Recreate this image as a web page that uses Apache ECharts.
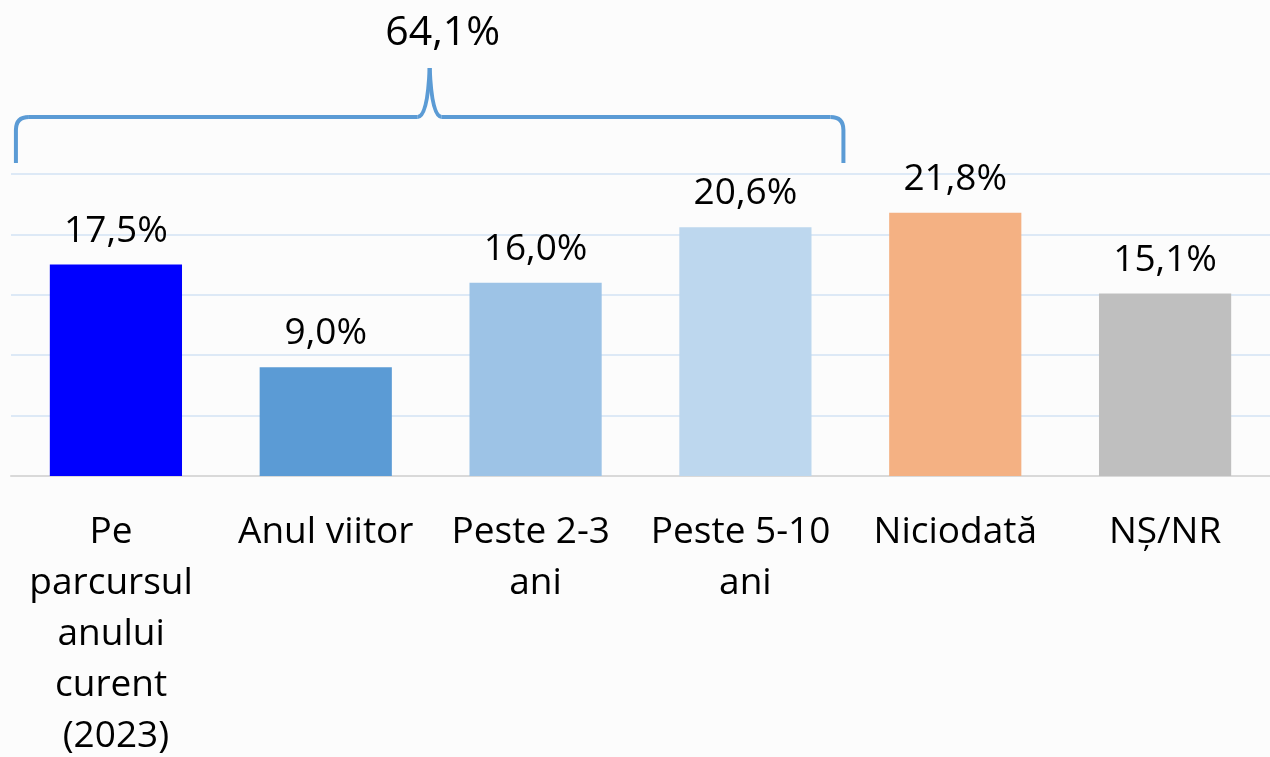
<!DOCTYPE html>
<html>
<head>
<meta charset="utf-8">
<script src="https://cdn.jsdelivr.net/npm/echarts@6/dist/echarts.min.js"></script>
<style>
  html, body { margin: 0; padding: 0; background: #fcfcfc; }
  #chart { width: 1270px; height: 757px; }
</style>
</head>
<body>
<div id="chart"></div>
<script>
const categories = ["Pe parcursul anului curent (2023)", "Anul viitor", "Peste 2-3 ani", "Peste 5-10 ani", "Niciodată", "NȘ/NR"];
const values = [17.5, 9.0, 16.0, 20.6, 21.8, 15.1];
const barColors = ["#0000ff", "#5b9bd5", "#9dc3e6", "#bdd7ee", "#f4b183", "#bfbfbf"];
const bracketLabel = "64,1%";

const chart = echarts.init(document.getElementById("chart"));

const fmt = (v) => v.toFixed(1).replace(".", ",") + "%";

chart.setOption({
  backgroundColor: "#fcfcfc",
  animation: false,
  grid: { left: 11, right: 0, top: 174, bottom: 281, outerBoundsMode: "none" },
  xAxis: {
    type: "category",
    data: categories,
    axisLine: { lineStyle: { color: "#d9d9d9", width: 2 } },
    axisTick: { show: false },
    axisLabel: {
      interval: 0,
      color: "#000",
      fontFamily: "Open Sans",
      fontSize: 37,
      lineHeight: 51,
      margin: 31,
      width: 195,
      overflow: "break",
    },
  },
  yAxis: {
    type: "value",
    min: 0,
    max: 25,
    interval: 5,
    axisLabel: { show: false },
    axisLine: { show: false },
    splitLine: { lineStyle: { color: "#dde9f6", width: 2 } },
  },
  series: [
    {
      type: "bar",
      barCategoryGap: "37%",
      data: values.map((v, i) => ({ value: v, itemStyle: { color: barColors[i] } })),
      label: {
        show: true,
        position: "top",
        distance: 15,
        color: "#000",
        fontFamily: "Open Sans",
        fontSize: 37,
        formatter: (p) => fmt(p.value),
      },
    },
  ],
});

// bracket over the first four categories
const x0 = chart.convertToPixel({ xAxisIndex: 0 }, 0) - 100;
const x1 = chart.convertToPixel({ xAxisIndex: 0 }, 3) + 98;
const mid = (x0 + x1) / 2;
const yb = 163, yh = 117, yp = 68, r = 13;
const stroke = { stroke: "#5b9bd5", lineWidth: 4, fill: null };

const line = (a, b, c, d) => ({ type: "line", shape: { x1: a, y1: b, x2: c, y2: d }, style: stroke });
const curve = (a, b, cx, cy, c, d) => ({
  type: "bezierCurve",
  shape: { x1: a, y1: b, cpx1: cx, cpy1: cy, x2: c, y2: d },
  style: stroke,
});

chart.setOption({
  graphic: [
    line(x0, yb, x0, yh + r),
    curve(x0, yh + r, x0, yh, x0 + r, yh),
    line(x0 + r, yh, mid - 12, yh),
    curve(mid - 12, yh, mid - 2, yh, mid, yp),
    curve(mid, yp, mid + 2, yh, mid + 12, yh),
    line(mid + 12, yh, x1 - r, yh),
    curve(x1 - r, yh, x1, yh, x1, yh + r),
    line(x1, yh + r, x1, yb),
    {
      type: "text",
      x: mid + 13,
      y: 33,
      style: {
        text: bracketLabel,
        fill: "#000",
        font: "41px 'Open Sans'",
        textAlign: "center",
        textVerticalAlign: "middle",
      },
    },
  ],
});
</script>
</body>
</html>
